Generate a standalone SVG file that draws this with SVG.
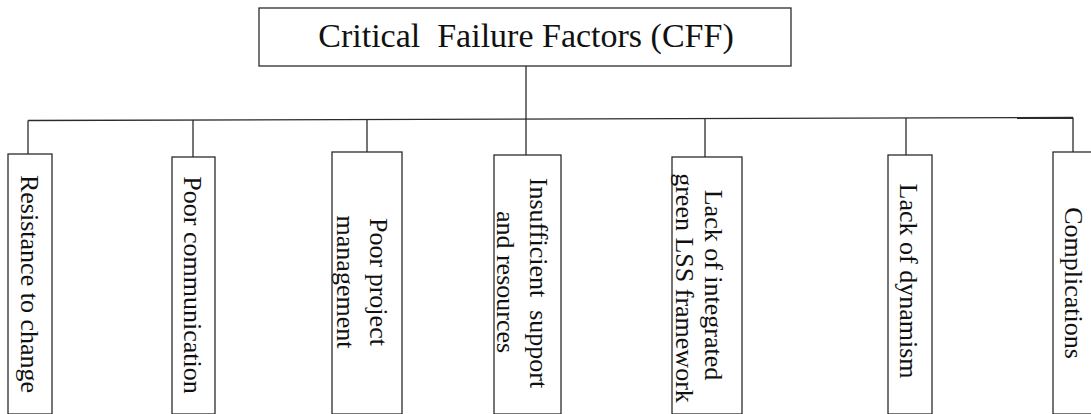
<svg xmlns="http://www.w3.org/2000/svg" width="1091" height="414" viewBox="0 0 1091 414">
  <style>
    .box { fill: #ffffff; stroke: #2b2b2b; stroke-width: 1.3; }
    .wire { fill: none; stroke: #2b2b2b; stroke-width: 1.3; }
    .title { font-family: "Liberation Serif", "Times New Roman", serif; font-size: 34px; fill: #111111; }
    .lbl { font-family: "Liberation Serif", "Times New Roman", serif; font-size: 26px; fill: #111111; text-anchor: middle; }
  </style>
  <rect width="1091" height="414" fill="#ffffff"/>

  <!-- connectors: trunk from the title, the bus, and drops to each factor -->
  <g id="connectors">
    <line class="wire" x1="526" y1="66" x2="526" y2="155"/>
    <line class="wire" x1="28" y1="120.5" x2="1073" y2="117.5"/>
    <line class="wire" x1="28" y1="120.5" x2="28" y2="154"/>
    <line class="wire" x1="193" y1="120" x2="193" y2="157"/>
    <line class="wire" x1="367" y1="119.5" x2="367" y2="152"/>
    <line class="wire" x1="705" y1="118.5" x2="705" y2="157"/>
    <line class="wire" x1="906" y1="118" x2="906" y2="155"/>
    <line class="wire" x1="1073" y1="117.5" x2="1073" y2="152"/>
  </g>

  <g id="cff">
    <rect class="box" x="259" y="8" width="532" height="58"/>
    <text class="title" x="526" y="47" text-anchor="middle" xml:space="preserve">Critical  Failure Factors (CFF)</text>
  </g>

  <g id="resistance">
    <rect class="box" x="8" y="154" width="44" height="260"/>
    <text class="lbl" transform="translate(21,284) rotate(90)">Resistance to change</text>
  </g>

  <g id="communication">
    <rect class="box" x="172" y="157" width="43" height="257"/>
    <text class="lbl" transform="translate(184,285) rotate(90)">Poor communication</text>
  </g>

  <g id="project">
    <rect class="box" x="332" y="152" width="70" height="262"/>
    <text class="lbl" transform="translate(370,282) rotate(90)">Poor project</text>
    <text class="lbl" transform="translate(337,282) rotate(90)">management</text>
  </g>

  <g id="support">
    <rect class="box" x="494" y="155" width="67" height="259"/>
    <text class="lbl" transform="translate(530,283) rotate(90)" xml:space="preserve">Insufficient  support</text>
    <text class="lbl" transform="translate(497,282) rotate(90)">and resources</text>
  </g>

  <g id="framework">
    <rect class="box" x="672" y="157" width="70" height="257"/>
    <text class="lbl" transform="translate(705,285) rotate(90)">Lack of integrated</text>
    <text class="lbl" transform="translate(676,288) rotate(90)">green LSS framework</text>
  </g>

  <g id="dynamism">
    <rect class="box" x="888" y="155" width="44" height="259"/>
    <text class="lbl" transform="translate(900,281) rotate(90)">Lack of dynamism</text>
  </g>

  <g id="complications">
    <rect class="box" x="1053" y="152" width="44" height="262"/>
    <text class="lbl" transform="translate(1065,283) rotate(90)">Complications</text>
  </g>
</svg>
